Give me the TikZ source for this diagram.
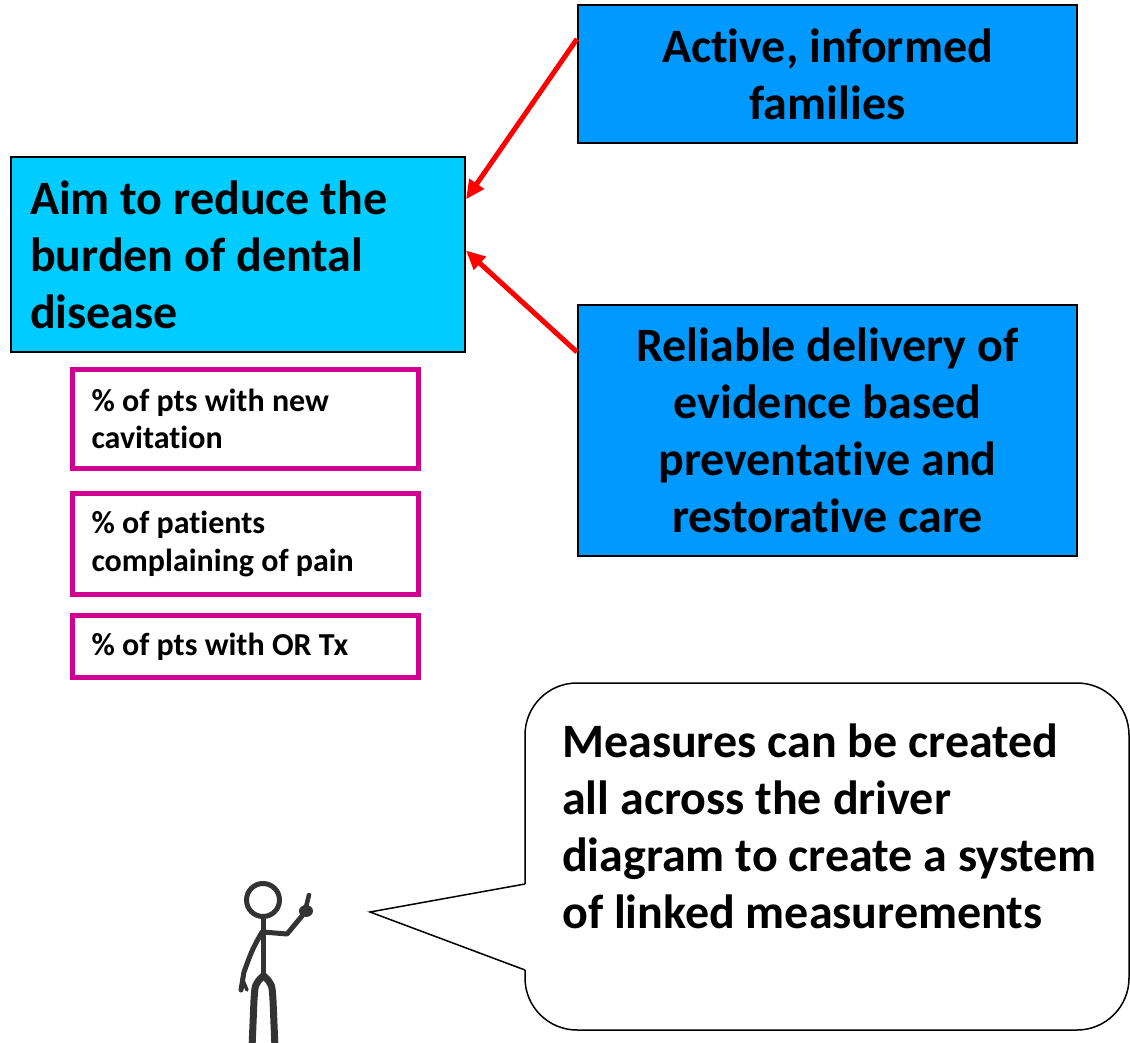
\documentclass[tikz,border=0pt]{standalone}
\usepackage{fontspec}
\setmainfont{Carlito}[Ligatures={NoCommon,NoContextual}]
\usetikzlibrary{arrows.meta,calc}

\definecolor{aimblue}{HTML}{00CCFF}
\definecolor{driverblue}{HTML}{0099FF}
\definecolor{measpink}{HTML}{D1008F}
\definecolor{figgray}{HTML}{333333}

\begin{document}
\begin{tikzpicture}[x=1pt,y=-1pt]
        \tikzstyle{big}=[font=\fontsize{48}{57}\selectfont\bfseries]
        \tikzstyle{small}=[font=\fontsize{32}{37.5}\selectfont\bfseries]
        \tikzstyle{aimbox}=[big,draw=black,line width=2pt,fill=aimblue,inner xsep=19pt,inner ysep=0pt,align=flush left]
        \tikzstyle{driverbox}=[big,draw=black,line width=2pt,fill=driverblue,inner xsep=19pt,inner ysep=0pt,align=flush center,minimum width=499pt,text width=461pt]
        \tikzstyle{measbox}=[small,draw=measpink,line width=5pt,inner xsep=19pt,inner ysep=0pt,align=flush left,minimum width=346pt,text width=308pt]
        \tikzstyle{driverarrow}=[draw=red,line width=5pt,-{Triangle[length=19pt,width=17pt]}]
        \tikzstyle{figline}=[draw=figgray,line width=5pt,line cap=round,line join=round]
        \useasboundingbox (0,0) rectangle (1130,1043);

        % aim and its measures
        \node[aimbox,minimum width=454pt,minimum height=195pt,text width=416pt] (aim) at (238,254.5)
            {Aim to reduce the\\burden of dental\\disease};
        \node[measbox,minimum height=99pt] (cavit) at (245.5,419) {\% of pts with new\\cavitation};
        \node[measbox,minimum height=101pt] (pain) at (245.5,544) {\% of patients\\complaining of pain};
        \node[measbox,minimum height=62pt] (ortx) at (245.5,646.5) {\% of pts with OR Tx};

        % primary drivers
        \node[driverbox,minimum height=138pt] (families) at (827.5,74) {Active, informed\\families};
        \node[driverbox,minimum height=251pt] (care) at (827.5,430.5)
            {Reliable delivery of\\evidence based\\preventative and\\restorative care};

        \draw[driverarrow] ($(families.north west)!0.25!(families.south west)$) -- ($(aim.north east)!0.22!(aim.south east)$);
        \draw[driverarrow] ($(care.north west)!0.19!(care.south west)$) -- ($(aim.north east)!0.48!(aim.south east)$);

        % speech bubble
        \node[big,anchor=west,align=left,inner sep=0pt] (note) at (562,826)
            {Measures can be created\\all across the driver\\diagram to create a system\\of linked measurements};
        \coordinate (tip) at (370,912);
        \draw[line width=1.5pt,rounded corners=52pt] (525,884) -- (525,683) -- (1129,683) -- (1129,1030) -- (525,1030) -- (525,970);
        \draw[line width=1.5pt] (525,884) -- (tip) -- (525,970);

        % little man
        \draw[figline] (263,900) circle (16.5);
        \draw[figline] (263,917) -- (263,978);
        \draw[figline,line width=7pt] (263,976) .. controls (255,984) .. (254,1000) -- (252,1048);
        \draw[figline,line width=7pt] (264,976) .. controls (272,984) .. (273,1000) -- (275,1048);
        \draw[figline] (263,932) -- (287,934) -- (302,916);
        \fill[figgray] (306,911) ellipse (7 and 6);
        \draw[figline,line width=4.5pt] (306,907) -- (309,895);
        \draw[figline] (262,932) .. controls (252,950) .. (244,972) -- (241,990);
        \draw[figline,line width=3.5pt] (242,978) -- (247,990);
\end{tikzpicture}
\end{document}
